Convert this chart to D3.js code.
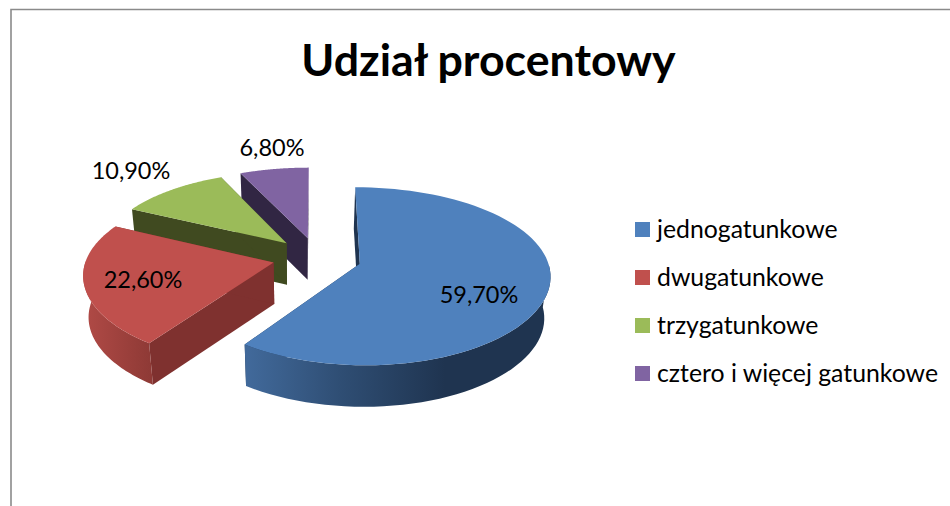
<!DOCTYPE html>
<html><head><meta charset="utf-8">
<script src="https://cdn.jsdelivr.net/npm/d3@7"></script>
<style>html,body{margin:0;padding:0;background:#fff}svg{display:block}text{font-family:Lato,Carlito,"Open Sans",sans-serif;fill:#000}</style>
</head><body><svg id="c" width="950" height="506"></svg>
<script>
const categories = ["jednogatunkowe","dwugatunkowe","trzygatunkowe","cztero i więcej gatunkowe"];
const values = [59.7,22.6,10.9,6.8];
const valueLabels = ["59,70%","22,60%","10,90%","6,80%"];
const chartTitle = "Udział procentowy";

const topColors = ["#4f81bd","#c0504d","#9bbb59","#8064a2"];
const wallColors = ["#1f3450","#7f312f","#404a20","#312643"];
const outerStops = [
  [[248,"#41699a"],[340,"#2f4e74"],[445,"#1f3450"],[549,"#1f3450"]],
  [[85,"#b04a46"],[150,"#8f3a36"]],
  [[130,"#404a20"],[230,"#404a20"]],
  [[240,"#312643"],[310,"#312643"]]
];
const labelAt = [[479,295],[143,280],[131,171],[272,148]];

const P = {cx:317, cy:257.5, rx:187, ry:85.5, kx:0.12, ky:0.14, explode:0.238, depth:41.5, vx:300, shrink:0.025};
const project = (u,v)=>[P.cx+P.rx*u/(1+P.kx*v), P.cy-P.ry*v/(1+P.ky*v)];
const lower = ([x,y])=>[x+(P.vx-x)*P.shrink, y+P.depth];

const svg = d3.select("#c");
const defs = svg.append("defs");
const arcs = d3.pie().sort(null).value(d=>d)(values);
const angle = d3.scaleLinear().domain([0,1]);
const line = d3.line();

// frame
svg.append("path").attr("d",line([[11,506],[11,9.5],[950,9.5]]))
  .attr("fill","none").attr("stroke","#8a8a8a").attr("stroke-width",1.6);

outerStops.forEach((st,i)=>{
  const g=defs.append("linearGradient").attr("id","w"+i).attr("gradientUnits","userSpaceOnUse")
    .attr("x1",st[0][0]).attr("x2",st[st.length-1][0]).attr("y1",0).attr("y2",0);
  const a=st[0][0],b=st[st.length-1][0];
  st.forEach(s=>g.append("stop").attr("offset",(s[0]-a)/(b-a)).attr("stop-color",s[1]));
});

const order = d3.range(values.length).reverse();
order.forEach(i=>{
  const d=arcs[i], mid=(d.startAngle+d.endAngle)/2;
  const ou=P.explode*Math.sin(mid), ov=P.explode*Math.cos(mid);
  const apex=project(ou,ov);
  angle.range([d.startAngle,d.endAngle]);
  const ts=d3.range(0,1.0001,1/80);
  const rim=ts.map(t=>{const a=angle(t);return project(ou+Math.sin(a),ov+Math.cos(a));});
  // only the front-facing part of the outer wall is visible
  const front=ts.filter(t=>Math.cos(angle(t))<=0.02).map(t=>{const a=angle(t);return project(ou+Math.sin(a),ov+Math.cos(a));});
  const first=rim[0], last=rim[rim.length-1];
  const g=svg.append("g");
  g.append("path").attr("d",line([apex,first,lower(first),lower(apex)])+"Z").attr("fill",wallColors[i]);
  g.append("path").attr("d",line([apex,last,lower(last),lower(apex)])+"Z").attr("fill",wallColors[i]);
  if(front.length>1) g.append("path").attr("d",line(front.concat(front.slice().reverse().map(lower)))+"Z").attr("fill","url(#w"+i+")");
  g.append("path").attr("d",line([apex].concat(rim))+"Z").attr("fill",topColors[i]);
});

// title
svg.append("text").attr("x",488.5).attr("y",76).attr("text-anchor","middle")
  .attr("font-size",44.7).attr("font-weight",700).text(chartTitle);

// data labels
valueLabels.forEach((t,i)=>svg.append("text").attr("x",labelAt[i][0]).attr("y",labelAt[i][1]+8)
  .attr("text-anchor","middle").attr("font-size",23.5).text(t));

// legend
const legendY = d3.scalePoint().domain(categories).range([229.5,373.5]);
categories.forEach((c,i)=>{
  svg.append("rect").attr("x",635).attr("y",legendY(c)-7.5).attr("width",15).attr("height",15).attr("fill",topColors[i]);
  svg.append("text").attr("x",657).attr("y",legendY(c)+8).attr("font-size",24.8).text(c);
});
</script></body></html>
